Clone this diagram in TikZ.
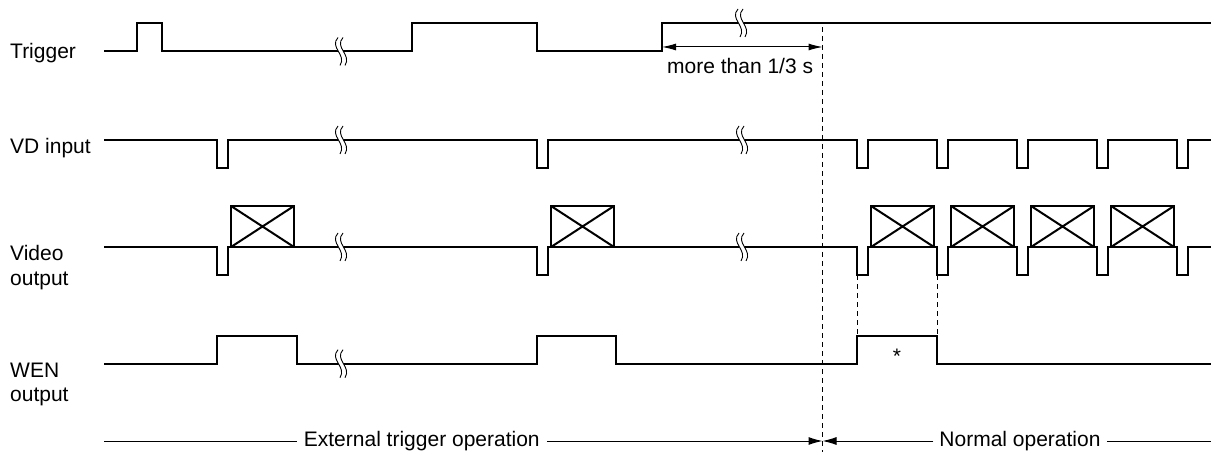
\documentclass[tikz,border=0pt]{standalone}
\usepackage{fontspec}
\setmainfont{Liberation Sans}
\usetikzlibrary{arrows.meta}
\begin{document}
\begin{tikzpicture}[x=1pt,y=-1pt,
  sig/.style={line width=2pt, line join=miter},
  boxst/.style={line width=2pt},
  lbl/.style={font=\fontsize{21}{24}\selectfont, inner sep=0pt, anchor=base west},
  guide/.style={line width=1pt, dash pattern=on 5pt off 4pt},
  thin/.style={line width=1pt},
  tipst/.style={-{Latex[length=14pt,width=8pt]}},
  pics/brk/.style={code={
    \fill[white] (-3,-14) .. controls (-12,-4) and (6,3) .. (-1,14) -- (4,14) .. controls (11,3) and (-7,-4) .. (2,-14) -- cycle;
    \draw[line width=0.9pt] (-3,-14) .. controls (-12,-4) and (6,3) .. (-1,14);
    \draw[line width=0.9pt] (2,-14) .. controls (-7,-4) and (11,3) .. (4,14);
  }}]
\useasboundingbox (0,0) rectangle (1212,454);

% labels
\node[lbl] (lTrig) at (10,59) {Trigger};
\node[lbl] (lVD) at (10,153.5) {VD input};
\node[lbl] (lVid1) at (10,261) {Video};
\node[lbl] (lVid2) at (10,285) {output};
\node[lbl] (lWEN1) at (10,377) {WEN};
\node[lbl] (lWEN2) at (10,401) {output};

% Trigger
\draw[sig] (104,51.5) -| (137,23) -| (162,51.5) -| (412,23) -| (537,51.5) -| (662,23) -- (1211,23);
\pic at (341,51.5) {brk};
\pic at (741,23) {brk};

% VD input
\draw[sig] (104,140) -| (217,168) -| (228,140) -| (537,168) -| (548,140)
  -| (857,168) -| (868,140) -| (937,168) -| (948,140) -| (1017,168) -| (1028,140)
  -| (1097,168) -| (1108,140) -| (1177,168) -| (1188,140) -- (1211,140);
\pic at (341,140) {brk};
\pic at (742,140) {brk};

% Video output
\draw[sig] (104,247) -| (217,275) -| (228,247) -| (537,275) -| (548,247)
  -| (857,275) -| (868,247) -| (937,275) -| (948,247) -| (1017,275) -| (1028,247)
  -| (1097,275) -| (1108,247) -| (1177,275) -| (1188,247) -- (1211,247);
\foreach \bx in {231,551,871,951,1031,1111}{
  \draw[boxst] (\bx,206) rectangle (\bx+63,247);
  \draw[boxst] (\bx,206) -- (\bx+63,247) (\bx,247) -- (\bx+63,206);
}
\pic at (341,247) {brk};
\pic at (742,247) {brk};

% WEN output
\draw[sig] (104,363.7) -| (217,336) -| (297,363.7) -| (537,336) -| (616,363.7)
  -| (857,336) -| (937,363.7) -- (1211,363.7);
\pic at (341,363.7) {brk};
\node[font=\fontsize{21}{24}\selectfont, inner sep=0pt] (star) at (897,356) {*};

% guides
\coordinate (cutTop) at (822.5,27);
\coordinate (cutBot) at (822.5,452);
\draw[guide] (cutTop) -- (cutBot);
\coordinate (d1a) at (857,275); \coordinate (d1b) at (857,336);
\coordinate (d2a) at (937,275); \coordinate (d2b) at (937,336);
\draw[guide] (d1a) -- (d1b);
\draw[guide] (d2a) -- (d2b);

% more than 1/3 s
\coordinate (mA) at (662,47);
\coordinate (mB) at (822.5,47);
\draw[thin, {Latex[length=14pt,width=7pt]}-{Latex[length=14pt,width=7pt]}] (mA) -- (mB);
\node[lbl] (mtxt) at (667,74) {more than 1/3 s};

% bottom
\coordinate (bL) at (104,441);
\coordinate (bM) at (822.5,441);
\coordinate (bR) at (1211,441);
\node[font=\fontsize{21}{24}\selectfont, inner ysep=0pt, inner xsep=7pt] (ext) at (421.8,441) {External trigger operation};
\node[font=\fontsize{21}{24}\selectfont, inner ysep=0pt, inner xsep=6pt] (norm) at (1020,441) {Normal operation};
\draw[thin] (bL) -- (ext.west);
\draw[thin, tipst] (ext.east) -- (bM);
\draw[thin, tipst] (norm.west) -- (bM);
\draw[thin] (norm.east) -- (bR);
\end{tikzpicture}
\end{document}
